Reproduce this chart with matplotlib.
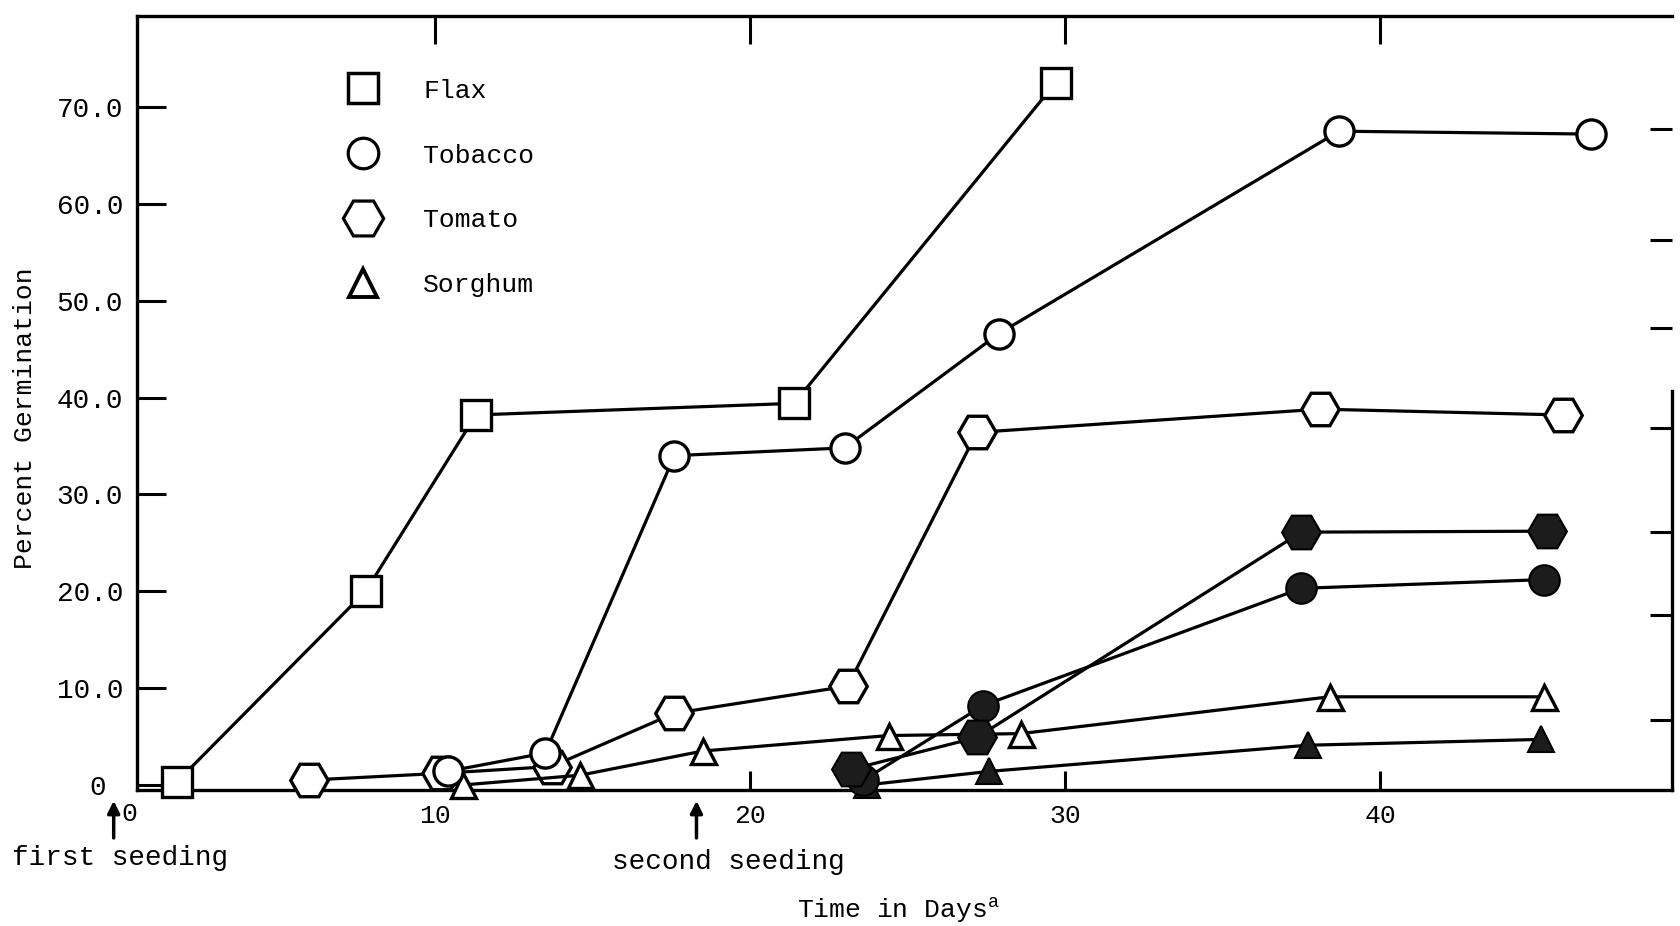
import matplotlib
matplotlib.use('Agg')
import matplotlib.pyplot as plt
from matplotlib.lines import Line2D

plt.rcParams['font.family'] = ['Liberation Mono', 'DejaVu Sans']
plt.rcParams['mathtext.fontset'] = 'custom'
plt.rcParams['mathtext.rm'] = 'Liberation Mono'
plt.rcParams['mathtext.it'] = 'Liberation Mono'

# first seeding (open symbols)
flax_days = [1.8, 7.8, 11.3, 21.4, 29.7]
flax_pct = [0.3, 20.0, 38.2, 39.4, 72.5]
tobacco_days = [10.4, 13.5, 17.6, 23.0, 27.9, 38.7, 46.7]
tobacco_pct = [1.4, 3.3, 34.0, 34.8, 46.6, 67.5, 67.2]
tomato_days = [6.0, 10.2, 13.7, 17.6, 23.1, 27.2, 38.1, 45.8]
tomato_pct = [0.5, 1.2, 1.9, 7.4, 10.2, 36.4, 38.8, 38.2]
sorghum_days = [10.9, 14.6, 18.5, 24.4, 28.6, 38.4, 45.2]
sorghum_pct = [0.0, 1.0, 3.5, 5.1, 5.3, 9.1, 9.1]

# second seeding (filled symbols)
tobacco2_days = [23.6, 27.4, 37.5, 45.2]
tobacco2_pct = [0.5, 8.2, 20.3, 21.2]
tomato2_days = [23.2, 27.2, 37.5, 45.3]
tomato2_pct = [1.6, 4.9, 26.1, 26.2]
sorghum2_days = [23.7, 27.6, 37.7, 45.1]
sorghum2_pct = [0.0, 1.4, 4.1, 4.7]

legend_names = ['Flax', 'Tobacco', 'Tomato', 'Sorghum']
y_ticks = [0, 10, 20, 30, 40, 50, 60, 70]
y_ticklabels = ['0 ', '10.0', '20.0', '30.0', '40.0', '50.0', '60.0', '70.0']
x_ticks = [10, 20, 30, 40]
right_ticks = [6.7, 17.5, 26.1, 36.9, 47.2, 56.3, 67.7]
first_seed_day = -0.2
second_seed_day = 18.3

fig = plt.figure(figsize=(16.81, 9.26), dpi=100)
ax = fig.add_axes([0.0815, 0.1469, 0.9132, 0.8359])
ax.set_xlim(0.54, 49.27)
ax.set_ylim(-0.52, 79.4)

lw = 2.3
open_kw = dict(color='black', lw=lw, mfc='white', mec='black', mew=2.4, clip_on=False)
fill_kw = dict(color='black', lw=lw, mfc='#1c1c1c', mec='black', mew=1.5, clip_on=False)

ax.plot(tomato_days, tomato_pct, marker='H', ms=27, zorder=3, **open_kw)
ax.plot(sorghum_days, sorghum_pct, marker='^', ms=18, zorder=3, **open_kw)
ax.plot(tobacco_days, tobacco_pct, marker='o', ms=21, zorder=4, **open_kw)
ax.plot(flax_days, flax_pct, marker='s', ms=21, zorder=4, **open_kw)

ax.plot(sorghum2_days, sorghum2_pct, marker='^', ms=19, zorder=5, **fill_kw)
ax.plot(tobacco2_days, tobacco2_pct, marker='o', ms=22, zorder=5, **fill_kw)
ax.plot(tomato2_days, tomato2_pct, marker='H', ms=28, zorder=6, **fill_kw)

# axes styling
for s in ax.spines.values():
    s.set_linewidth(2.4)
ax.spines['right'].set_bounds(-0.52, 40.7)
ax.set_yticks(y_ticks)
ax.set_yticklabels(y_ticklabels)
ax.set_xticks(x_ticks)
ax.set_xticklabels([str(t) for t in x_ticks])
ax.tick_params(axis='y', direction='in', length=21, width=2.2, pad=10, labelsize=20)
ax.tick_params(axis='x', direction='in', length=14, width=2.2, pad=10, labelsize=19)

axr = ax.twinx()
axr.set_ylim(ax.get_ylim())
axr.set_yticks(right_ticks)
axr.set_yticklabels([])
axr.tick_params(direction='in', length=16, width=2.2)
for s in axr.spines.values():
    s.set_visible(False)

axt = ax.twiny()
axt.set_xlim(ax.get_xlim())
axt.set_xticks(x_ticks)
axt.set_xticklabels([])
axt.tick_params(direction='in', length=20, width=2.2)
for s in axt.spines.values():
    s.set_visible(False)

ax.set_ylabel('Percent Germination', fontsize=19)
ax.yaxis.set_label_coords(-0.065, 0.48)
ax.set_xlabel(r'Time in Days$^{\mathrm{a}}$', fontsize=19)
ax.xaxis.set_label_coords(0.496, -0.137)

# seeding annotations
trans = ax.get_xaxis_transform()
ax.text(0.3, -0.031, '0', transform=trans, ha='center', va='center', fontsize=19)
for day in [first_seed_day, second_seed_day]:
    ax.annotate('', xy=(day, -0.014), xytext=(day, -0.062), xycoords=trans,
                textcoords=trans, annotation_clip=False,
                arrowprops=dict(arrowstyle='-|>', color='black', lw=2.5,
                                mutation_scale=18, shrinkA=0, shrinkB=0))
ax.text(0.0, -0.088, 'first seeding', transform=trans, ha='center', va='center', fontsize=20)
ax.text(19.3, -0.093, 'second seeding', transform=trans, ha='center', va='center', fontsize=20)

# legend
handles = [
    Line2D([], [], ls='none', marker='s', ms=22, mfc='white', mec='black', mew=2.5),
    Line2D([], [], ls='none', marker='o', ms=22, mfc='white', mec='black', mew=2.3),
    Line2D([], [], ls='none', marker='H', ms=29, mfc='white', mec='black', mew=2.3),
    Line2D([], [], ls='none', marker='^', ms=20, mfc='white', mec='black', mew=2.8),
]
ax.legend(handles, legend_names, loc='upper left', bbox_to_anchor=(0.1384, 0.919),
          frameon=False, fontsize=19, handlelength=1.0, handletextpad=1.8,
          labelspacing=1.55, borderpad=0, borderaxespad=0, numpoints=1)

fig.savefig('out.png', dpi=100, facecolor='white')
